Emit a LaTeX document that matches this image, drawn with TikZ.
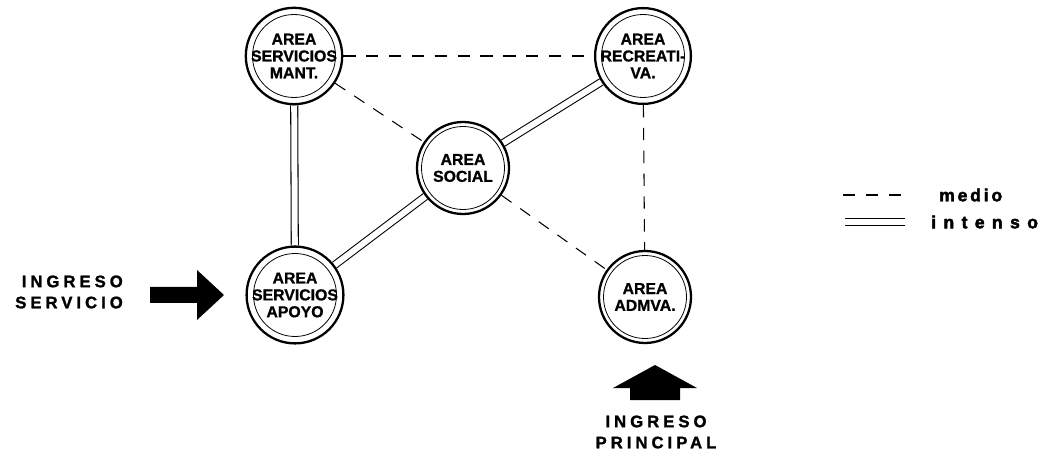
\documentclass[tikz,border=0pt]{standalone}
\usepackage{fontspec}
\setmainfont{Liberation Sans}
\newfontfamily\areafont[FakeBold=1]{Liberation Sans Bold}
\newfontfamily\spacedfont[LetterSpace=24, FakeBold=1.5]{Liberation Sans Bold}
\newfontfamily\legendfont[LetterSpace=42, FakeBold=2.5]{Liberation Sans Bold}
\newfontfamily\mediofont[LetterSpace=16, FakeBold=2.5]{Liberation Sans Bold}
\usetikzlibrary{arrows.meta,positioning,calc,backgrounds}

\begin{document}
\begin{tikzpicture}[
    every node/.style={font=\areafont\fontsize{9}{9.6}\selectfont},
    area/.style={circle, draw, line width=1.3pt, minimum size=1.84cm, inner sep=0pt, align=center,
        path picture={\draw[line width=0.45pt] (path picture bounding box.center) circle (0.83cm);}},
    medio/.style={dash pattern=on 7pt off 6pt, line width=0.6pt},
    intenso/.style={double, double distance=3.4pt, line width=0.6pt},
    ingreso/.style={font=\spacedfont\fontsize{9.5}{12}\selectfont, align=center},
]
    \useasboundingbox (0,0) rectangle (21.02,-9.1);

    % Areas
    \node[area] (mant) at (5.88,-1.12) {AREA\\SERVICIOS\\MANT.};
    \node[area] (recrea) at (12.86,-1.12) {AREA\\RECREATI-\\VA.};
    \node[area] (social) at (9.26,-3.36) {AREA\\SOCIAL};
    \node[area] (apoyo) at (5.90,-5.90) {AREA\\SERVICIOS\\APOYO};
    \node[area] (admva) at (12.90,-5.94) {AREA\\ADMVA.};

    % Relations
    \begin{scope}[on background layer]
        \draw[medio] (mant) -- (recrea);
        \draw[medio] (mant) -- (social);
        \draw[medio] (recrea) -- (admva);
        \draw[medio] (social) -- (admva);
        \draw[intenso] (mant) -- (apoyo);
        \draw[intenso] (recrea) -- (social);
        \draw[intenso] (social) -- (apoyo);
    \end{scope}

    % Ingreso servicio
    \node[ingreso, align=right, anchor=east] (ingserv) at (2.58,-5.84) {INGRESO\\SERVICIO};
    \fill (3.0,-5.74) -- (3.94,-5.74) -- (3.94,-5.4) -- (4.48,-5.9) -- (3.94,-6.4)
        -- (3.94,-6.06) -- (3.0,-6.06) -- cycle;

    % Ingreso principal
    \fill (13.1,-7.3) -- (13.94,-7.76) -- (13.6,-7.76) -- (13.6,-8.0) -- (12.6,-8.0)
        -- (12.6,-7.76) -- (12.26,-7.76) -- cycle;
    \node[ingreso] (ingprin) at (13.12,-8.64) {INGRESO\\PRINCIPAL};

    % Legend
    \coordinate (medioA) at (16.86,-3.9);
    \coordinate (medioB) at (18.1,-3.9);
    \draw[medio] (medioA) -- (medioB);
    \node[anchor=west, font=\mediofont\fontsize{10}{11}\selectfont] (mediotxt) at (18.66,-3.9) {medio};
    \coordinate (intensoA) at (16.9,-4.44);
    \coordinate (intensoB) at (18.1,-4.44);
    \draw[intenso] (intensoA) -- (intensoB);
    \node[anchor=west, font=\legendfont\fontsize{10}{11}\selectfont] (intensotxt) at (18.5,-4.44) {intenso};
\end{tikzpicture}
\end{document}
